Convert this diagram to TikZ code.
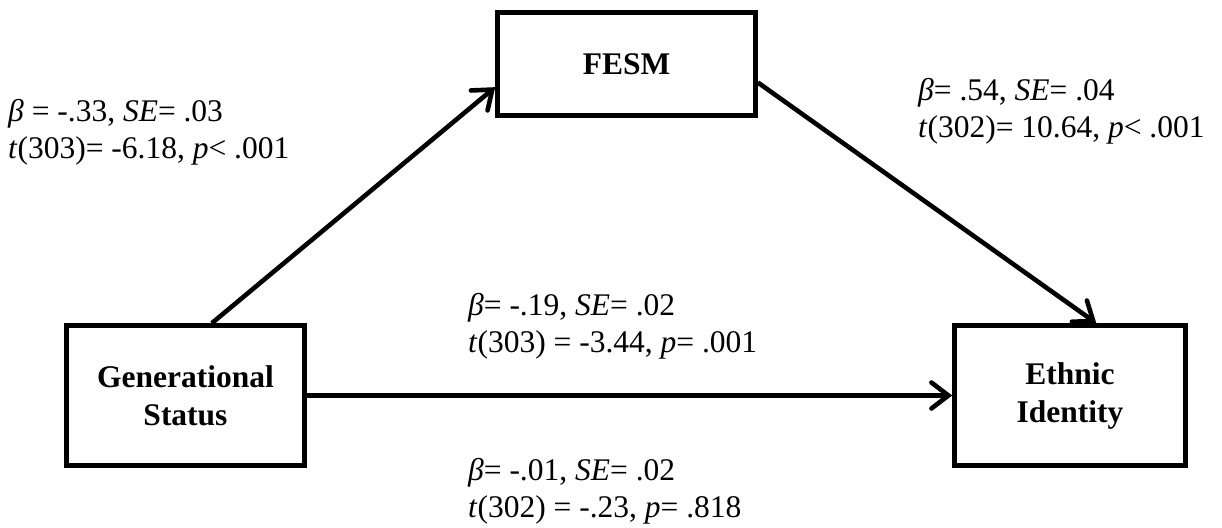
\documentclass[tikz,border=0pt]{standalone}
\usepackage{fontspec}
\setmainfont{Liberation Serif}
\usetikzlibrary{arrows.meta}
\begin{document}
\begin{tikzpicture}[x=1pt,y=-1pt,
  varbox/.style={draw=black,line width=4.6pt,fill=white,align=center,
    font=\fontsize{31.5}{38}\selectfont\bfseries,inner sep=0pt},
  path/.style={draw=black,line width=4.6pt,
    -{Straight Barb[length=17pt,width=26pt,line width=4.6pt,line cap=round]}},
  coef/.style={align=left,anchor=base west,inner sep=0pt,
    font=\fontsize{31.5}{37}\selectfont}]
  \useasboundingbox (0,0) rectangle (1222,527);

  % variables
  \node[varbox,minimum width=258pt,minimum height=103pt] (fesm) at (626.5,64) {FESM};
  \node[varbox,minimum width=238pt,minimum height=140pt] (gen) at (185.5,395.5) {Generational\\Status};
  \node[varbox,minimum width=231pt,minimum height=140pt] (eth) at (1070,395.5) {Ethnic\\Identity};

  % paths
  \draw[path] (gen.70.7) -- (fesm.190.1);
  \draw[path] (fesm.-8.8) -- (eth.70.3);
  \draw[path] (gen.east) -- (eth.west);

  % coefficients (anchored at the baseline of the second line)
  \node[coef] (ca) at (8,158) {\textit{β} = -.33, \textit{SE}= .03\\\textit{t}(303)= -6.18, \textit{p}< .001};
  \node[coef] (cb) at (918,137) {\textit{β}= .54, \textit{SE}= .04\\\textit{t}(302)= 10.64, \textit{p}< .001};
  \node[coef] (cc) at (468,352) {\textit{β}= -.19, \textit{SE}= .02\\\textit{t}(303) = -3.44, \textit{p}= .001};
  \node[coef] (cd) at (468,517) {\textit{β}= -.01, \textit{SE}= .02\\\textit{t}(302) = -.23, \textit{p}= .818};
\end{tikzpicture}
\end{document}
